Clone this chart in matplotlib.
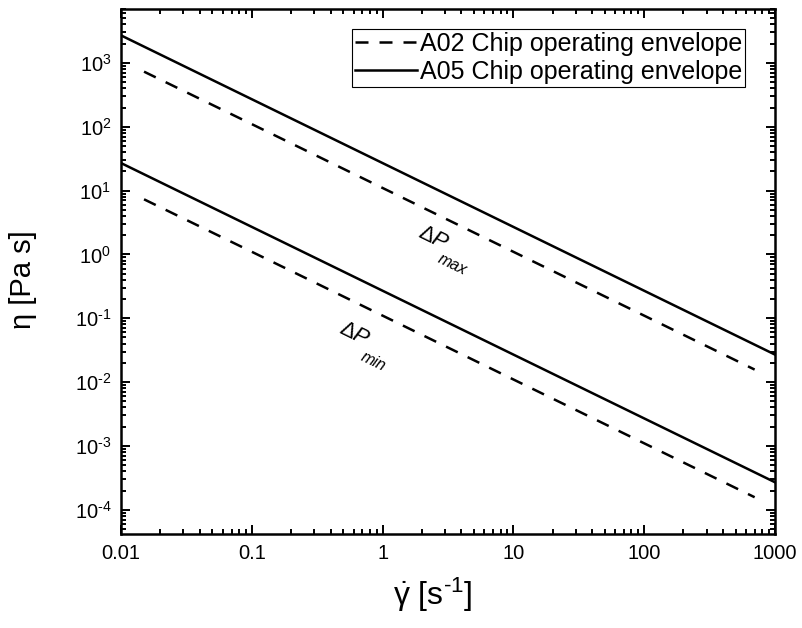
import numpy as np
import matplotlib
matplotlib.use('Agg')
import matplotlib.pyplot as plt
from matplotlib.ticker import LogLocator, FixedLocator, FixedFormatter, NullFormatter, FuncFormatter

plt.rcParams['font.family'] = ['Liberation Sans', 'DejaVu Sans']
plt.rcParams['mathtext.fontset'] = 'custom'
plt.rcParams['mathtext.rm'] = 'Liberation Sans'
plt.rcParams['mathtext.it'] = 'Liberation Sans:italic'
plt.rcParams['mathtext.bf'] = 'Liberation Sans:bold'
plt.rcParams['axes.unicode_minus'] = False

#Data
shear_a05 = [0.01, 0.1, 1, 10, 100, 1000]
eta_a05_max = [2700, 270, 27, 2.7, 0.27, 0.027]
eta_a05_min = [27, 2.7, 0.27, 0.027, 0.0027, 0.00027]
shear_a02 = [0.015, 0.1, 1, 10, 100, 700]
eta_a02_max = [730, 110, 11, 1.1, 0.11, 0.0157]
eta_a02_min = [7.3, 1.1, 0.11, 0.011, 0.0011, 0.000157]

xticks = [0.01, 0.1, 1, 10, 100, 1000]
xtick_labels = ['0.01', '0.1', '1', '10', '100', '1000']


def pow_label(v, pos):
    e = int(round(np.log10(v)))
    if e < 0:
        return r'10$^{\text{-}%d}$' % (-e)
    return r'10$^{%d}$' % e


fig = plt.figure(figsize=(8.03, 6.28), dpi=100)
ax = fig.add_axes([0.1507, 0.150, 0.8143, 0.8357])

lw = 1.8
dash = (0, (5.2, 4.4))
ax.plot(shear_a02, eta_a02_max, color='black', lw=lw, linestyle=dash,
        label='A02 Chip operating envelope')
ax.plot(shear_a05, eta_a05_max, color='black', lw=lw, label='A05 Chip operating envelope')
ax.plot(shear_a05, eta_a05_min, color='black', lw=lw)
ax.plot(shear_a02, eta_a02_min, color='black', lw=lw, linestyle=dash)

ax.set_xscale('log')
ax.set_yscale('log')
ax.set_xlim(0.01, 1000)
ax.set_ylim(4.2e-5, 7000)

ax.xaxis.set_major_locator(FixedLocator(xticks))
ax.xaxis.set_major_formatter(FixedFormatter(xtick_labels))
ax.xaxis.set_minor_locator(LogLocator(base=10, subs=np.arange(2, 10), numticks=20))
ax.xaxis.set_minor_formatter(NullFormatter())
ax.yaxis.set_major_locator(LogLocator(base=10, numticks=20))
ax.yaxis.set_major_formatter(FuncFormatter(pow_label))
ax.yaxis.set_minor_locator(LogLocator(base=10, subs=np.arange(2, 10), numticks=20))
ax.yaxis.set_minor_formatter(NullFormatter())

ax.tick_params(which='both', direction='in', top=True, right=True, width=1.4)
ax.tick_params(which='major', length=6.5, labelsize=14.5, pad=7)
ax.tick_params(which='minor', length=3.6)
for s in ax.spines.values():
    s.set_linewidth(1.8)

ax.set_xlabel(r'$\dot{\mathrm{\gamma}}$ [s$^{\text{-}1}$]', fontsize=23)
ax.xaxis.set_label_coords(0.476, -0.08)
ax.set_ylabel('η [Pa s]', fontsize=21)
ax.yaxis.set_label_coords(-0.128, 0.485)

# Delta P annotations along the lines
rot = -26
ax.text(2.43, 1.82, r'$\Delta P$', fontsize=16, rotation=rot, ha='center', va='center')
ax.text(3.4, 0.69, 'max', fontsize=11.5, style='italic', rotation=rot, ha='center', va='center')
ax.text(0.615, 0.0553, r'$\Delta P$', fontsize=16, rotation=rot, ha='center', va='center')
ax.text(0.845, 0.0209, 'min', fontsize=11.5, style='italic', rotation=rot, ha='center', va='center')

leg = ax.legend(loc='upper right', bbox_to_anchor=(0.954, 0.962), borderaxespad=0,
                fontsize=18, frameon=True, fancybox=False, framealpha=1,
                edgecolor='black', handlelength=2.5, handletextpad=0.1,
                borderpad=0.12, labelspacing=0.15)
leg.get_frame().set_linewidth(0.8)

fig.savefig('out.png', dpi=100)
